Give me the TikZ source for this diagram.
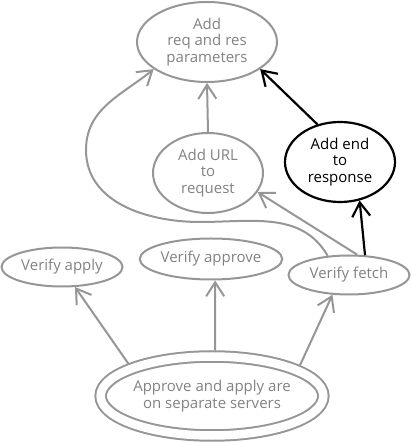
\documentclass[tikz,border=0pt]{standalone}
\usepackage{fontspec}
\setmainfont{Open Sans}
\usetikzlibrary{shapes.geometric,arrows.meta}
\definecolor{pale}{RGB}{150,150,150}
\definecolor{paletext}{RGB}{130,130,130}

\begin{document}
\begin{tikzpicture}[x=1pt,y=1pt,>={Straight Barb[length=14pt,width=18pt]},
    bubble/.style={ellipse,draw=pale,line width=2pt,text=paletext,inner sep=0pt,align=center,font=\fontsize{15}{16.5}\selectfont},
    hot/.style={draw=black,text=black,line width=2.2pt},
    link/.style={->,draw=pale,line width=2pt}]
        \useasboundingbox (0,0) rectangle (412,442);
        \node[bubble,minimum width=140pt,minimum height=80pt] (params) at (207,400) {Add\\req and res\\parameters};
        \node[bubble,minimum width=110pt,minimum height=80pt] (url) at (208,269) {Add URL\\to\\request};
        \node[bubble,hot,minimum width=110pt,minimum height=80pt] (endresp) at (340,280) {Add end\\to\\response};
        \node[bubble,minimum width=121pt,minimum height=39pt] (vapply) at (62,175) {Verify apply};
        \node[bubble,minimum width=141pt,minimum height=41pt] (vapprove) at (211,183) {Verify approve};
        \node[bubble,minimum width=121pt,minimum height=39pt] (vfetch) at (349,167) {Verify fetch};
        \node[bubble,double,double distance=8.5pt,outer sep=6pt,minimum width=221pt,minimum height=79pt] (servers) at (212,46) {Approve and apply are\\on separate servers};
        \coordinate (dip) at (200,220);
        \coordinate (bend) at (86,292);
        \draw[link] (servers.159) -- (vapply.303);
        \draw[link] (servers.86) -- (vapprove.281);
        \draw[link] (servers.19) -- (vfetch.230);
        \draw[link] (vfetch.68) -- (url.339);
        \draw[link] (vfetch.138) to[out=120,in=0] (dip) to[out=180,in=-90] (bend) to[out=90,in=219] (params.207);
        \draw[link] (url.north) -- (params.south);
        \draw[link,hot] (endresp.121) -- (params.333);
        \draw[link,hot] (vfetch.51) -- (endresp.297);
      \end{tikzpicture}
\end{document}
